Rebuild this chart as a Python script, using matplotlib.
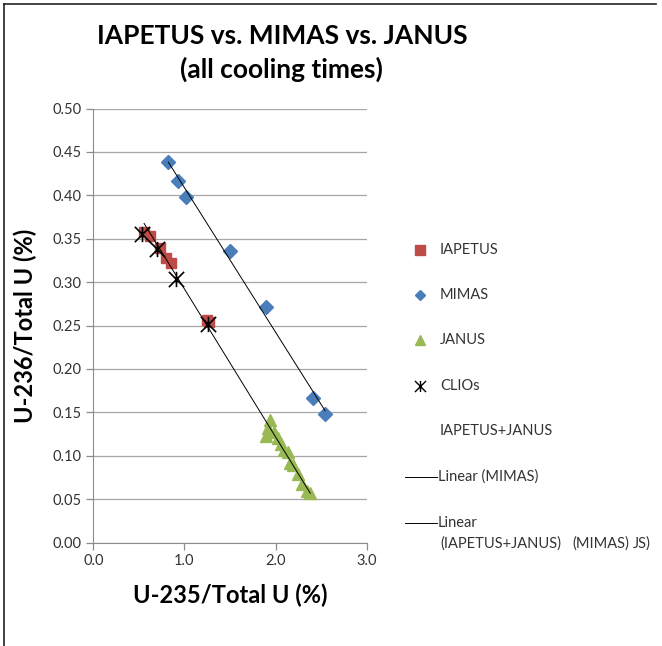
import numpy as np
import matplotlib.pyplot as plt
from matplotlib.lines import Line2D
from matplotlib.path import Path

# U-235 / U-236 fractions (% of total U) for each sample group
iapetus_x = [0.557, 0.622, 0.732, 0.795, 0.853, 1.245, 1.270]
iapetus_y = [0.358, 0.353, 0.339, 0.328, 0.322, 0.256, 0.254]

mimas_x = [0.823, 0.933, 1.018, 1.500, 1.892, 2.415, 2.543]
mimas_y = [0.438, 0.417, 0.398, 0.336, 0.271, 0.167, 0.148]

janus_x = [1.940, 1.918, 1.896, 1.984, 2.027, 2.060, 2.093, 2.137,
           2.160, 2.190, 2.250, 2.290, 2.345, 2.380]
janus_y = [0.141, 0.132, 0.123, 0.127, 0.120, 0.114, 0.107, 0.104,
           0.092, 0.089, 0.079, 0.067, 0.060, 0.057]

clio_x = [0.538, 0.703, 0.908, 1.262]
clio_y = [0.355, 0.338, 0.304, 0.252]

x_ticks = [0.0, 1.0, 2.0, 3.0]
y_ticks = np.arange(0, 0.501, 0.05)

RED = "#BE4B48"
BLUE = "#4A7EBB"
GREEN = "#98B954"

plt.rcParams["font.family"] = ["Lato", "DejaVu Sans"]

# asterisk marker: an x with a vertical bar through it
star = Path([(-1, -1), (1, 1), (-1, 1), (1, -1), (0, -1), (0, 1)],
            [Path.MOVETO, Path.LINETO, Path.MOVETO, Path.LINETO,
             Path.MOVETO, Path.LINETO])

fig = plt.figure(figsize=(6.62, 6.46), dpi=100)
ax = fig.add_axes([0.141, 0.160, 0.413, 0.672])

# linear trendlines
ij_x = np.array(iapetus_x + janus_x)
ij_y = np.array(iapetus_y + janus_y)
m, b = np.polyfit(ij_x, ij_y, 1)
xs = np.array([ij_x.min(), ij_x.max()])
ax.plot(xs, m * xs + b, color="black", lw=0.7, zorder=4)

mx = np.array(mimas_x)
m2, b2 = np.polyfit(mx, np.array(mimas_y), 1)
xs2 = np.array([mx.min(), mx.max()])
ax.plot(xs2, m2 * xs2 + b2, color="black", lw=0.7, zorder=4)

ax.plot(iapetus_x, iapetus_y, "s", color=RED, ms=7.5, mec=RED, zorder=3)
ax.plot(mimas_x, mimas_y, "D", color=BLUE, ms=7.5, mec=BLUE, zorder=3)
ax.plot(janus_x, janus_y, "^", color=GREEN, ms=8.5, mec=GREEN, zorder=3)
ax.plot(clio_x, clio_y, ls="none", marker=star, ms=11, mec="black",
        mew=1.2, zorder=5)

ax.set_xlim(0, 3)
ax.set_ylim(0, 0.5)
ax.set_xticks(x_ticks)
ax.set_xticklabels([f"{v:.1f}" for v in x_ticks])
ax.set_yticks(y_ticks)
ax.set_yticklabels([f"{v:.2f}" for v in y_ticks])
ax.grid(axis="y", color="#a6a6a6", lw=0.9)
ax.set_axisbelow(True)
for side in ["top", "right"]:
    ax.spines[side].set_visible(False)
for side in ["left", "bottom"]:
    ax.spines[side].set_color("#8c8c8c")
ax.tick_params(colors="#8c8c8c", labelcolor="#333333", labelsize=10.5,
               length=5, width=0.9, direction="out")

ax.set_xlabel("U-235/Total U (%)", fontsize=17, fontweight="bold",
              labelpad=11)
ax.set_ylabel("U-236/Total U (%)", fontsize=17, fontweight="bold",
              labelpad=11)

fig.text(0.426, 0.945, "IAPETUS vs. MIMAS vs. JANUS", ha="center",
         va="center", fontsize=19, fontweight="bold")
fig.text(0.425, 0.892, "(all cooling times)", ha="center", va="center",
         fontsize=19, fontweight="bold")

# legend laid out by hand
W, H = 662, 646


def fx(px):
    return px / W


def fy(py):
    return 1 - py / H


entries = [
    ("IAPETUS", dict(marker="s", color=RED, ms=7, ls="none"), 250),
    ("MIMAS", dict(marker="D", color=BLUE, ms=5, ls="none"), 295),
    ("JANUS", dict(marker="^", color=GREEN, ms=7, ls="none"), 340),
    ("CLIOs", dict(marker=star, mec="black", ms=8, mew=1.0, ls="none"), 386),
    ("IAPETUS+JANUS", None, 431),
]
for label, style, py in entries:
    if style is not None:
        fig.add_artist(Line2D([fx(420)], [fy(py)], **style))
    fig.text(fx(440), fy(py), label, va="center", fontsize=10.5,
             color="#333333")

for label, py in [("Linear (MIMAS)", 477), ("Linear", 523)]:
    fig.add_artist(Line2D([fx(405), fx(437)], [fy(py), fy(py)],
                          color="black", lw=0.7))
    fig.text(fx(438), fy(py), label, va="center", fontsize=10.5,
             color="#333333")
fig.text(fx(440), fy(544), "(IAPETUS+JANUS)", va="center", fontsize=10.5,
         color="#333333")
fig.text(fx(572), fy(544), "(MIMAS)", va="center", fontsize=10.5,
         color="#333333")
fig.text(fx(633), fy(544), "JS)", va="center", fontsize=10.5,
         color="#333333")

# chart frame edges
fig.add_artist(Line2D([fx(4), fx(4)], [fy(4), 0], color="#222222", lw=1.2))
fig.add_artist(Line2D([fx(4), fx(656)], [fy(4), fy(4)], color="#222222",
                      lw=1.2))

fig.savefig("out.png", dpi=100)
